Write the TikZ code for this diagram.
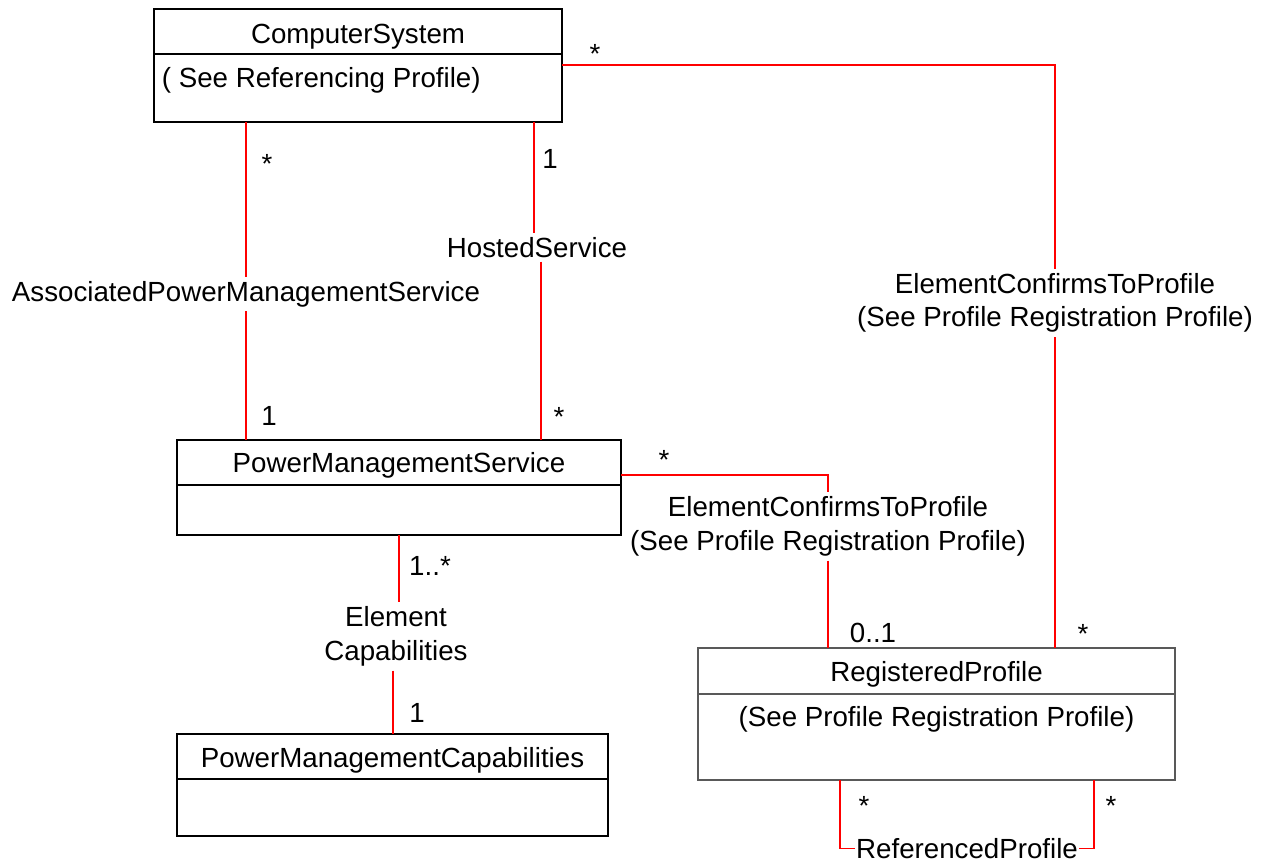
\documentclass[tikz,border=0pt]{standalone}
\usepackage{fontspec}
\setmainfont{Liberation Sans}
\usetikzlibrary{positioning}
\begin{document}
\begin{tikzpicture}[x=0.5pt,y=-0.5pt]
    \tikzstyle{classbox}=[draw,line width=0.75pt,inner sep=0pt,outer sep=0pt,anchor=north west]
    \tikzstyle{divider}=[line width=0.75pt]
    \tikzstyle{txt}=[inner sep=0pt,font=\fontsize{13.85}{16.75}\selectfont]
    \tikzstyle{lbl}=[txt,inner sep=2pt,align=center]
    \tikzstyle{assoc}=[draw=red,line width=0.6pt]
    \useasboundingbox (0,0) rectangle (1261,863);

    % classes
    \node[classbox,minimum width=204pt,minimum height=56.5pt] (cs) at (154,9) {};
      \draw[divider] (cs.west |- 0,54) -- (cs.east |- 0,54);
      \node[txt,anchor=base] (cs title) at (cs.north |- 0,43) {ComputerSystem};
      \node[txt,anchor=base west] (cs body) at (161.5,87) {( See Referencing Profile)};
    \node[classbox,minimum width=222pt,minimum height=47.5pt] (pms) at (177,440) {};
      \draw[divider] (pms.west |- 0,485) -- (pms.east |- 0,485);
      \node[txt,anchor=base] (pms title) at (pms.north |- 0,472) {PowerManagementService};
    \node[classbox,minimum width=215.5pt,minimum height=51pt] (pmc) at (177,734) {};
      \draw[divider] (pmc.west |- 0,779) -- (pmc.east |- 0,779);
      \node[txt,anchor=base] (pmc title) at (pmc.north |- 0,767) {PowerManagementCapabilities};
    \node[classbox,draw=black!65,minimum width=238.5pt,minimum height=66pt] (rp) at (698,648) {};
      \draw[divider,black!65] (rp.west |- 0,694) -- (rp.east |- 0,694);
      \node[txt,anchor=base] (rp title) at (rp.north |- 0,681) {RegisteredProfile};
      \node[txt,anchor=base] (rp body) at (rp.north |- 0,726) {(See Profile Registration Profile)};

    % association names
    \node[lbl,anchor=base] (apms) at (246,301) {AssociatedPowerManagementService};
    \node[lbl,anchor=base] (hosted) at (537,257) {HostedService};
    \node[lbl] (ectp cs) at (1055,303) {ElementConfirmsToProfile\\(See Profile Registration Profile)};
    \node[lbl] (ectp pms) at (828,526.5) {ElementConfirmsToProfile\\(See Profile Registration Profile)};
    \node[lbl] (elemcap) at (396,636.5) {Element\\Capabilities};
    \node[lbl,inner sep=0.5pt,anchor=base] (refp) at (967,858) {ReferencedProfile};

    % associations
    \draw[assoc] (246,0 |- cs.south) -- (apms);
    \draw[assoc] (apms) -- (246,0 |- pms.north);
    \draw[assoc] (534,0 |- cs.south) -- (534,0 |- hosted.north);
    \draw[assoc] (541,0 |- hosted.south) -- (541,0 |- pms.north);
    \draw[assoc] (cs.east |- 0,65) -| (ectp cs);
    \draw[assoc] (ectp cs) -- (1055,0 |- rp.north);
    \draw[assoc] (pms.east |- 0,475) -| (ectp pms);
    \draw[assoc] (ectp pms) -- (828,0 |- rp.north);
    \draw[assoc] (399,0 |- pms.south) -- (399,0 |- elemcap.north);
    \draw[assoc] (393,0 |- elemcap.south) -- (393,0 |- pmc.north);
    \draw[assoc] (840,0 |- rp.south) |- (refp);
    \draw[assoc] (refp) -| (1094,0 |- rp.south);

    % multiplicities
    \node[txt,anchor=base] (m1) at (267,173) {*};
    \node[txt,anchor=base] (m2) at (269,425) {1};
    \node[txt,anchor=base] (m3) at (550,168) {1};
    \node[txt,anchor=base] (m4) at (559,426) {*};
    \node[txt,anchor=base] (m5) at (595,63) {*};
    \node[txt,anchor=base] (m6) at (1083,643) {*};
    \node[txt,anchor=base] (m7) at (664,469) {*};
    \node[txt,anchor=base] (m8) at (873,642) {0..1};
    \node[txt,anchor=base] (m9) at (430,575) {1..*};
    \node[txt,anchor=base] (m10) at (417,722) {1};
    \node[txt,anchor=base] (m11) at (864,815) {*};
    \node[txt,anchor=base] (m12) at (1111,815) {*};
\end{tikzpicture}
\end{document}
